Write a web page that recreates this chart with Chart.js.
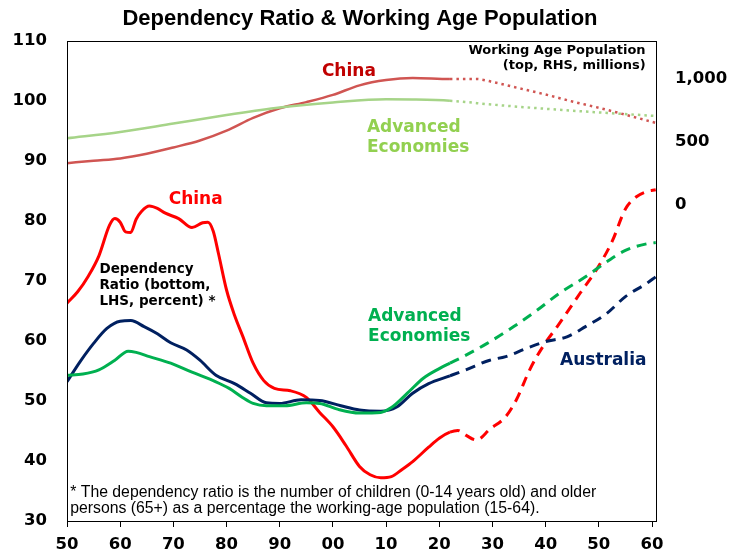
<!DOCTYPE html>
<html>
<head>
<meta charset="utf-8">
<script src="https://cdn.jsdelivr.net/npm/chart.js@4.4.0/dist/chart.umd.min.js"></script>
<style>
  body { margin: 0; background: #fff; }
  #wrap { width: 729px; height: 551px; }
</style>
</head>
<body>
<div id="wrap"><canvas id="chart" width="729" height="551"></canvas></div>
<script>
// Data
const PROJ_START = 2022; // solid -> dashed/dotted

const xTickYears = [1950, 1960, 1970, 1980, 1990, 2000, 2010, 2020, 2030, 2040, 2050, 2060];
const xTickLabels = ['50', '60', '70', '80', '90', '00', '10', '20', '30', '40', '50', '60'];
const rightTickValues = [0, 500, 1000];
const rightTickLabels = ['0', '500', '1,000'];

// Dependency ratio (LHS, percent)
const chinaDepYears = [1950, 1952, 1954, 1956, 1958, 1959, 1960, 1961, 1962, 1963, 1964, 1965.5, 1967, 1968.5, 1971, 1973.5, 1975.5, 1976.5, 1977.5, 1978.5, 1980, 1981.5, 1983, 1985, 1987, 1989, 1992, 1995, 1997.5, 2000, 2002.5, 2005, 2007, 2009, 2011, 2013, 2015, 2018, 2020, 2022, 2023.5, 2025, 2027, 2029.5, 2032.5, 2034.5, 2037, 2039.5, 2042.5, 2046.5, 2049.5, 2052.5, 2055, 2057, 2059, 2060.7];
const chinaDep = [66.3, 68.2, 70.8, 74.2, 79.3, 80.4, 79.8, 78.2, 78.1, 80.3, 81.6, 82.5, 82.1, 81.3, 80.4, 78.9, 79.7, 79.8, 78.3, 74.5, 68.5, 64.3, 60.9, 56.3, 53.4, 52.1, 51.7, 50.6, 48.1, 45.7, 42.5, 39.1, 37.7, 37.2, 37.4, 38.6, 39.9, 42.3, 43.8, 44.8, 45.1, 44.3, 43.5, 45.3, 47.4, 50.2, 55.2, 59.1, 62.8, 68.0, 71.8, 76.6, 82.0, 84.0, 84.9, 85.2];

const advDepYears = [1950, 1953, 1956, 1959, 1961.5, 1963, 1965.5, 1969.5, 1973.5, 1978, 1980.5, 1983, 1985, 1987.5, 1991, 1995, 1997.5, 2001, 2005, 2009, 2011, 2014, 2017, 2020, 2022, 2024.5, 2029, 2034, 2038.5, 2042.5, 2047.5, 2051.5, 2055, 2059, 2060.7];
const advDep = [54.3, 54.5, 55.2, 56.8, 58.3, 58.1, 57.4, 56.3, 54.8, 53.2, 52.1, 50.6, 49.6, 49.2, 49.2, 49.7, 49.6, 48.6, 48.0, 48.1, 48.9, 51.3, 53.8, 55.4, 56.3, 57.4, 59.6, 62.4, 65.2, 67.9, 70.7, 73.2, 75.1, 76.2, 76.4];

const ausDepYears = [1950, 1952.5, 1955, 1957.5, 1960, 1962, 1964.5, 1967, 1969.5, 1972.5, 1975, 1978, 1981.5, 1984.5, 1987.5, 1990, 1994, 1997.5, 2001.5, 2005, 2009, 2012, 2015, 2018, 2022, 2025, 2029.5, 2032.5, 2036.5, 2040, 2044, 2047.5, 2051.5, 2055, 2059, 2060.7];
const ausDep = [53.2, 56.6, 59.6, 62.1, 63.3, 63.4, 62.4, 61.2, 59.7, 58.5, 56.8, 54.3, 52.9, 51.3, 49.7, 49.6, 50.2, 50.1, 49.2, 48.5, 48.3, 49.0, 51.3, 52.9, 54.2, 55.2, 56.8, 57.4, 58.8, 59.9, 60.7, 62.4, 64.6, 67.4, 69.6, 70.7];

// Working age population (RHS, millions)
const chinaWapYears = [1950, 1955, 1960, 1965, 1970, 1975, 1980, 1985, 1990, 1995, 2000, 2005, 2010, 2015, 2022, 2027, 2030, 2035, 2040, 2045, 2050, 2055, 2060.7];
const chinaWap = [330, 350, 368, 405, 455, 510, 588, 690, 766, 815, 872, 948, 990, 1006, 998, 998, 975, 925, 875, 820, 770, 715, 650];

const advWapYears = [1950, 1960, 1970, 1980, 1990, 2000, 2010, 2015, 2022, 2030, 2040, 2050, 2060.7];
const advWap = [528, 578, 645, 712, 772, 812, 838, 836, 826, 795, 762, 733, 705];

const VERDANA = '"DejaVu Sans", Verdana, sans-serif';
const ARIAL = '"Liberation Sans", Arial, sans-serif';
const TICK_FONT = { family: VERDANA, size: 16.5, weight: 'bold' };

function pts(xs, ys) {
  return xs.map((x, i) => ({ x: x, y: ys[i] }));
}

function lineSet(label, xs, ys, color, width, axis, dash) {
  return {
    label: label,
    data: pts(xs, ys),
    yAxisID: axis,
    borderColor: color,
    borderWidth: width,
    borderCapStyle: 'butt',
    pointRadius: 0,
    fill: false,
    cubicInterpolationMode: 'monotone',
    segment: {
      borderDash: ctx => ctx.p0.parsed.x >= PROJ_START ? dash : undefined
    }
  };
}

// text labels, placed in data coordinates (year, LHS value)
const notes = [
  { lines: ['China'], x: 2003, y: 104.9, color: '#C00000', font: 'bold 17px ' + VERDANA, align: 'center', lh: 20 },
  { lines: ['Advanced', 'Economies'], x: 2006.4, y: 95.5, color: '#92D050', font: 'bold 17px ' + VERDANA, align: 'left', lh: 20 },
  { lines: ['Working Age Population', '(top, RHS, millions)'], x: 2058.8, y: 108.4, color: '#000', font: 'bold 13px ' + VERDANA, align: 'right', lh: 15.5 },
  { lines: ['China'], x: 1974.2, y: 83.6, color: '#FF0000', font: 'bold 17px ' + VERDANA, align: 'center', lh: 20 },
  { lines: ['Dependency', 'Ratio (bottom,', 'LHS, percent) *'], x: 1956.1, y: 71.9, color: '#000', font: 'bold 13.5px ' + VERDANA, align: 'left', lh: 16 },
  { lines: ['Advanced', 'Economies'], x: 2006.6, y: 64, color: '#00B050', font: 'bold 17px ' + VERDANA, align: 'left', lh: 20 },
  { lines: ['Australia'], x: 2042.7, y: 56.7, color: '#002060', font: 'bold 17px ' + VERDANA, align: 'left', lh: 20 },
  { lines: ['* The dependency ratio is the number of children (0-14 years old) and older', 'persons (65+) as a percentage the working-age population (15-64).'], x: 1950.6, y: 34.8, color: '#000', font: '15.8px ' + ARIAL, align: 'left', lh: 16 }
];

const decorPlugin = {
  id: 'decor',
  afterDatasetsDraw(chart) {
    const ctx = chart.ctx;
    const a = chart.chartArea;
    const xs = chart.scales.x, ys = chart.scales.y;
    ctx.save();
    // plot frame
    ctx.strokeStyle = '#000';
    ctx.lineWidth = 1;
    ctx.strokeRect(Math.round(a.left) + 0.5, Math.round(a.top) + 0.5, Math.round(a.right - a.left), Math.round(a.bottom - a.top));
    // labels
    ctx.textBaseline = 'middle';
    notes.forEach(n => {
      ctx.font = n.font;
      ctx.fillStyle = n.color;
      ctx.textAlign = n.align;
      const px = xs.getPixelForValue(n.x);
      const py = ys.getPixelForValue(n.y);
      n.lines.forEach((t, i) => ctx.fillText(t, px, py + i * n.lh));
    });
    // title
    ctx.font = 'bold 22px ' + ARIAL;
    ctx.fillStyle = '#000';
    ctx.textAlign = 'center';
    ctx.fillText('Dependency Ratio & Working Age Population', 360, 19);
    ctx.restore();
  }
};

new Chart(document.getElementById('chart'), {
  type: 'line',
  data: {
    datasets: [
      lineSet('Advanced Economies WAP', advWapYears, advWap, '#A6D488', 2.5, 'y2', [2.5, 4]),
      lineSet('China WAP', chinaWapYears, chinaWap, '#D05552', 2.5, 'y2', [2.5, 4]),
      lineSet('Advanced Economies', advDepYears, advDep, '#00B050', 3, 'y', [10, 7]),
      lineSet('Australia', ausDepYears, ausDep, '#002060', 3, 'y', [10, 7]),
      lineSet('China', chinaDepYears, chinaDep, '#FF0000', 3, 'y', [10, 7])
    ]
  },
  options: {
    responsive: false,
    animation: false,
    layout: { padding: { top: 41, left: 0, right: 0, bottom: 0 } },
    plugins: {
      legend: { display: false },
      title: { display: false },
      tooltip: { enabled: false }
    },
    scales: {
      x: {
        type: 'linear',
        min: 1950,
        max: 2060.75,
        afterBuildTicks: s => { s.ticks = xTickYears.map(v => ({ value: v })); },
        afterFit: s => { s.height = 30; },
        ticks: {
          autoSkip: false,
          maxRotation: 0,
          padding: 8,
          color: '#000',
          font: TICK_FONT,
          callback: (v, i) => xTickLabels[i]
        },
        grid: { display: true, drawOnChartArea: false, drawTicks: true, tickLength: 6, tickColor: '#000', tickWidth: 1 },
        border: { display: false }
      },
      y: {
        position: 'left',
        min: 30,
        max: 110,
        afterFit: s => { s.width = 67; },
        ticks: {
          stepSize: 10,
          padding: 20,
          color: '#000',
          font: TICK_FONT
        },
        grid: { display: false, drawTicks: false },
        border: { display: false }
      },
      y2: {
        position: 'right',
        min: -2510,
        max: 1300,
        afterBuildTicks: s => { s.ticks = rightTickValues.map(v => ({ value: v })); },
        afterFit: s => { s.width = 73; },
        ticks: {
          padding: 19,
          color: '#000',
          font: TICK_FONT,
          callback: (v, i) => rightTickLabels[i]
        },
        grid: { display: false, drawTicks: false },
        border: { display: false }
      }
    }
  },
  plugins: [decorPlugin]
});
</script>
</body>
</html>
